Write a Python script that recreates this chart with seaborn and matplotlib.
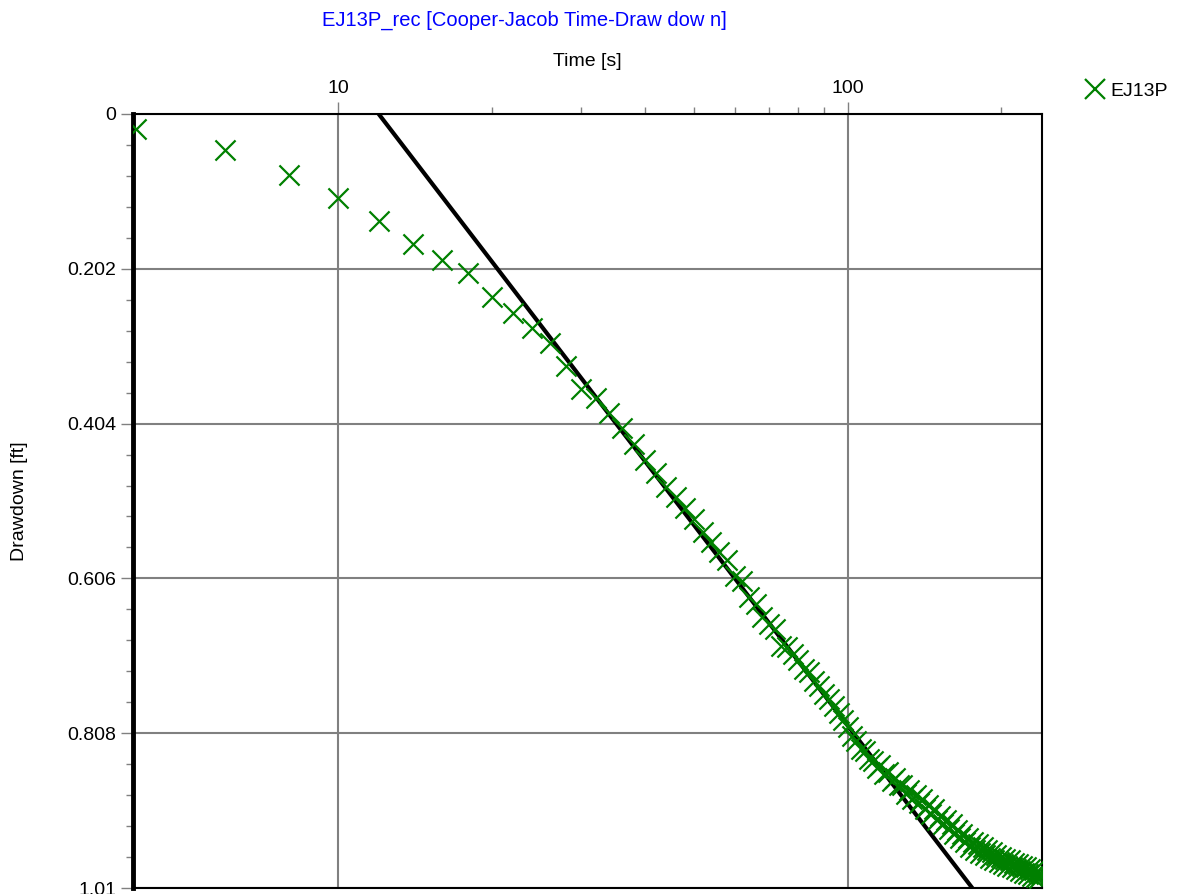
import numpy as np
import pandas as pd
import seaborn as sns
import matplotlib.pyplot as plt
from matplotlib.ticker import FixedLocator, FixedFormatter, NullFormatter
from matplotlib.lines import Line2D

# observed drawdown, EJ13P (time every 2 s)
time_s = [4, 6, 8, 10, 12, 14, 16, 18, 20, 22, 24, 26, 28, 30, 32, 34, 36, 38, 40, 42,
          44, 46, 48, 50, 52, 54, 56, 58, 60, 62, 64, 66, 68, 70, 72, 74, 76, 78, 80, 82,
          84, 86, 88, 90, 92, 94, 96, 98, 100, 102, 104, 106, 108, 110, 112, 114, 116, 118, 120, 122,
          124, 126, 128, 130, 132, 134, 136, 138, 140, 142, 144, 146, 148, 150, 152, 154, 156, 158, 160, 162,
          164, 166, 168, 170, 172, 174, 176, 178, 180, 182, 184, 186, 188, 190, 192, 194, 196, 198, 200, 202,
          204, 206, 208, 210, 212, 214, 216, 218, 220, 222, 224, 226, 228, 230, 232, 234, 236, 238, 240]
drawdown_ft = [0.020, 0.047, 0.080, 0.110, 0.140, 0.170, 0.191, 0.208, 0.239, 0.260,
               0.279, 0.299, 0.329, 0.359, 0.371, 0.390, 0.410, 0.431, 0.452, 0.469,
               0.487, 0.500, 0.514, 0.528, 0.546, 0.558, 0.572, 0.582, 0.603, 0.610,
               0.630, 0.640, 0.656, 0.665, 0.672, 0.694, 0.696, 0.704, 0.712, 0.724,
               0.728, 0.740, 0.746, 0.757, 0.764, 0.772, 0.782, 0.791, 0.800, 0.812,
               0.818, 0.829, 0.831, 0.842, 0.844, 0.853, 0.850, 0.861, 0.858, 0.870,
               0.866, 0.876, 0.875, 0.887, 0.882, 0.894, 0.889, 0.899, 0.894, 0.907,
               0.902, 0.913, 0.907, 0.921, 0.916, 0.926, 0.921, 0.933, 0.927, 0.939,
               0.934, 0.945, 0.939, 0.950, 0.945, 0.956, 0.950, 0.960, 0.953, 0.964,
               0.957, 0.967, 0.960, 0.971, 0.963, 0.973, 0.967, 0.976, 0.969, 0.979,
               0.972, 0.981, 0.974, 0.983, 0.977, 0.985, 0.979, 0.988, 0.981, 0.990,
               0.983, 0.992, 0.985, 0.994, 0.987, 0.996, 0.989, 0.997, 0.992]

# Cooper-Jacob straight-line fit
fit_time = [12.0, 175.7]
fit_drawdown = [0.0, 1.01]

y_ticks = [0, 0.202, 0.404, 0.606, 0.808, 1.01]
y_labels = ["0", "0.202", "0.404", "0.606", "0.808", "1.01"]

df = pd.DataFrame({"Time": time_s, "Drawdown": drawdown_ft})
fit = pd.DataFrame({"Time": fit_time, "Drawdown": fit_drawdown})

sns.set_style("white")
plt.rcParams['font.family'] = ['Liberation Sans', 'DejaVu Sans']
plt.rcParams['text.color'] = 'black'
plt.rcParams['axes.labelcolor'] = 'black'

fig = plt.figure(figsize=(11.87, 8.94), dpi=100)
ax = fig.add_axes([0.112, 0.0067, 0.766, 0.8658])

sns.lineplot(data=fit, x="Time", y="Drawdown", color="black", linewidth=3, ax=ax, zorder=3)
sns.scatterplot(data=df, x="Time", y="Drawdown", marker="x", s=210, color="green",
                linewidth=1.6, ax=ax, zorder=4)

ax.set_xscale("log")
ax.set_xlim(3.95, 241)
ax.set_ylim(1.01, 0)

# top x axis
ax.xaxis.tick_top()
ax.xaxis.set_label_position("top")
ax.xaxis.set_major_locator(FixedLocator([10, 100]))
ax.xaxis.set_major_formatter(FixedFormatter(["10", "100"]))
ax.xaxis.set_minor_locator(FixedLocator([20, 30, 40, 50, 60, 70, 80, 90, 200]))
ax.xaxis.set_minor_formatter(NullFormatter())

ax.yaxis.set_major_locator(FixedLocator(y_ticks))
ax.yaxis.set_major_formatter(FixedFormatter(y_labels))
ax.yaxis.set_minor_locator(FixedLocator([i * 0.0404 for i in range(26)]))

ax.tick_params(axis="both", which="major", direction="out", length=9, width=1,
               color="#808080", labelcolor="black", labelsize=14, pad=3)
ax.tick_params(axis="both", which="minor", direction="out", length=5, width=1,
               color="#808080")
ax.tick_params(axis="x", which="both", top=True, bottom=False)
ax.tick_params(axis="y", which="both", left=True, right=False)

ax.grid(True, which="major", color="#808080", linewidth=1.5)
ax.set_axisbelow(True)

for side in ["top", "bottom", "right"]:
    ax.spines[side].set_color("black")
    ax.spines[side].set_linewidth(1.5)
ax.spines["left"].set_color("black")
ax.spines["left"].set_linewidth(3.5)

ax.set_xlabel("Time [s]", fontsize=14, labelpad=10)
ax.set_ylabel("Drawdown [ft]", fontsize=14, labelpad=28)

fig.text(524 / 1187, 1 - 20 / 894, "EJ13P_rec [Cooper-Jacob Time-Draw dow n]",
         color="blue", fontsize=14.5, ha="center", va="center")

handle = Line2D([], [], linestyle="none", marker="x", color="green",
                markersize=14, markeredgewidth=1.6)
fig.legend([handle], ["EJ13P"], loc="center left", frameon=False, fontsize=14,
           bbox_to_anchor=(1083 / 1187, 1 - 91 / 894), handletextpad=0.2,
           handlelength=1.2, borderaxespad=0, borderpad=0)

fig.savefig("out.png", dpi=100)
